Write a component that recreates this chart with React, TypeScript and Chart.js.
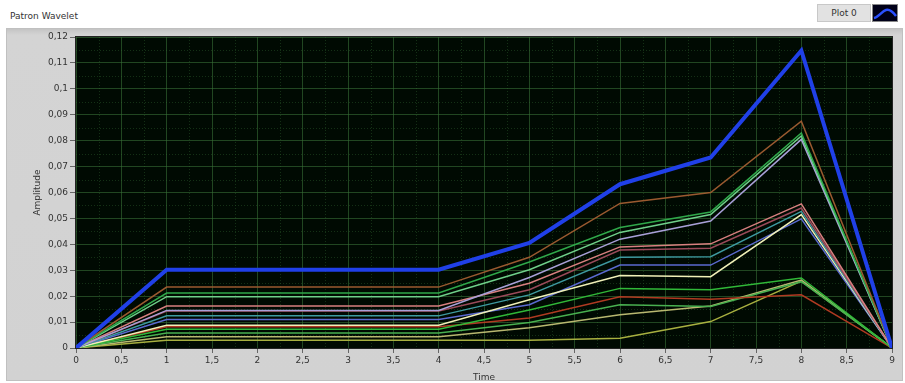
import React, { useEffect, useRef } from "react";
import { Chart, registerables } from "chart.js";

Chart.register(...registerables);

// Sample instants (s)
const timeValues = [0, 1, 2, 3, 4, 5, 6, 7, 8, 9];

// Wavelet pattern (thick trace) and the family of scaled traces
const patronValues = [0, 0.0302, 0.0302, 0.0302, 0.0302, 0.0405, 0.0632, 0.0735, 0.1148, 0];
const traceA = [0, 0.0235, 0.0235, 0.0235, 0.0235, 0.035, 0.0558, 0.06, 0.0875, 0];
const traceB = [0, 0.0212, 0.0212, 0.0212, 0.0212, 0.0332, 0.0465, 0.0525, 0.083, 0];
const traceC = [0, 0.0198, 0.0198, 0.0198, 0.0198, 0.0302, 0.0446, 0.0515, 0.0818, 0];
const traceD = [0, 0.0145, 0.0145, 0.0145, 0.0145, 0.0272, 0.042, 0.049, 0.0805, 0];
const traceE = [0, 0.0162, 0.0162, 0.0162, 0.0162, 0.025, 0.039, 0.0402, 0.0556, 0];
const traceF = [0, 0.0143, 0.0143, 0.0143, 0.0143, 0.0225, 0.0378, 0.0385, 0.054, 0];
const traceG = [0, 0.0124, 0.0124, 0.0124, 0.0124, 0.0205, 0.035, 0.0352, 0.0527, 0];
const traceH = [0, 0.0088, 0.0088, 0.0088, 0.0088, 0.0186, 0.028, 0.0275, 0.0515, 0];
const traceI = [0, 0.011, 0.011, 0.011, 0.011, 0.0167, 0.032, 0.032, 0.0498, 0];
const traceJ = [0, 0.0072, 0.0072, 0.0072, 0.0072, 0.0147, 0.023, 0.0225, 0.027, 0];
const traceK = [0, 0.0082, 0.0082, 0.0082, 0.0082, 0.0116, 0.0198, 0.0188, 0.0205, 0];
const traceL = [0, 0.0058, 0.0058, 0.0058, 0.0058, 0.0098, 0.0167, 0.016, 0.0256, 0];
const traceM = [0, 0.0043, 0.0043, 0.0043, 0.0043, 0.0078, 0.0128, 0.0162, 0.0262, 0];
const traceN = [0, 0.003, 0.003, 0.003, 0.003, 0.003, 0.0038, 0.0102, 0.0258, 0];

// Axis ranges and tick steps
const yMin = 0;
const yMax = 0.12;
const yStep = 0.01;
const xMin = 0;
const xMax = 9;
const xStep = 0.5;

const traceStyles = [
  { label: "Plot 0", values: patronValues, color: "#2040e8", width: 4 },
  { label: "Plot 1", values: traceA, color: "#9a5a30", width: 1.5 },
  { label: "Plot 2", values: traceB, color: "#2fa84a", width: 1.5 },
  { label: "Plot 3", values: traceC, color: "#6fd08a", width: 1.5 },
  { label: "Plot 4", values: traceD, color: "#a8a0d8", width: 1.5 },
  { label: "Plot 5", values: traceE, color: "#d88080", width: 1.5 },
  { label: "Plot 6", values: traceF, color: "#9a4a5a", width: 1.5 },
  { label: "Plot 7", values: traceG, color: "#3e9aa0", width: 1.5 },
  { label: "Plot 8", values: traceH, color: "#f0f0b8", width: 1.5 },
  { label: "Plot 9", values: traceI, color: "#5a6ad0", width: 1.5 },
  { label: "Plot 10", values: traceJ, color: "#30b838", width: 1.5 },
  { label: "Plot 11", values: traceK, color: "#b03a22", width: 1.5 },
  { label: "Plot 12", values: traceL, color: "#48b050", width: 1.5 },
  { label: "Plot 13", values: traceM, color: "#b8b870", width: 1.5 },
  { label: "Plot 14", values: traceN, color: "#a8b040", width: 1.5 },
];

const fmt = (v: number) =>
  String(Math.round(v * 1000) / 1000).replace(".", ",");

// Plot background and dotted minor grid, drawn beneath the traces
const plotBackground = {
  id: "plotBackground",
  beforeDraw(chart: any) {
    const { ctx, chartArea, scales } = chart;
    const { left, right, top, bottom } = chartArea;
    ctx.save();
    ctx.fillStyle = "#000a02";
    ctx.fillRect(left, top, right - left, bottom - top);
    ctx.strokeStyle = "rgba(40,85,40,0.5)";
    ctx.lineWidth = 1;
    ctx.setLineDash([1, 2]);
    for (let v = xMin + xStep / 2; v < xMax; v += xStep) {
      const px = Math.round(scales.x.getPixelForValue(v)) + 0.5;
      ctx.beginPath();
      ctx.moveTo(px, top);
      ctx.lineTo(px, bottom);
      ctx.stroke();
    }
    for (let v = yMin + yStep / 2; v < yMax; v += yStep) {
      const py = Math.round(scales.y.getPixelForValue(v)) + 0.5;
      ctx.beginPath();
      ctx.moveTo(left, py);
      ctx.lineTo(right, py);
      ctx.stroke();
    }
    ctx.restore();
  },
  afterDraw(chart: any) {
    const { ctx, chartArea } = chart;
    ctx.save();
    ctx.strokeStyle = "#222";
    ctx.lineWidth = 1;
    ctx.strokeRect(
      chartArea.left - 0.5,
      chartArea.top - 0.5,
      chartArea.right - chartArea.left + 1,
      chartArea.bottom - chartArea.top + 1
    );
    ctx.restore();
  },
};

export default function App() {
  const canvasRef = useRef<HTMLCanvasElement | null>(null);

  useEffect(() => {
    document.body.style.margin = "0";
    const canvas = canvasRef.current;
    if (!canvas) return;
    const tickFont = { family: "DejaVu Sans", size: 9 };
    const gridColor = "rgba(55,110,55,0.6)";
    const chart = new Chart(canvas, {
      type: "line",
      data: {
        datasets: traceStyles.map((t) => ({
          label: t.label,
          data: timeValues.map((x, i) => ({ x, y: t.values[i] })),
          borderColor: t.color,
          backgroundColor: t.color,
          borderWidth: t.width,
          pointRadius: 0,
          tension: 0,
          fill: false,
        })),
      },
      options: {
        animation: false,
        responsive: false,
        maintainAspectRatio: false,
        layout: { padding: { left: 0, top: 37, right: 13, bottom: 0 } },
        plugins: {
          legend: { display: false },
          tooltip: { enabled: false },
          title: { display: false },
        },
        scales: {
          x: {
            type: "linear",
            min: xMin,
            max: xMax,
            ticks: {
              stepSize: xStep,
              callback: (v: any) => fmt(Number(v)),
              color: "#333",
              font: tickFont,
              padding: 2,
              maxRotation: 0,
              autoSkip: false,
            },
            grid: {
              color: gridColor,
              lineWidth: 1,
              tickColor: "#666",
              tickLength: 5,
              drawTicks: true,
            },
            border: { display: false },
            title: {
              display: true,
              text: "Time",
              color: "#333",
              font: tickFont,
              padding: { top: 0, bottom: 0 },
            },
            afterFit: (scale: any) => {
              scale.height = 35;
            },
          },
          y: {
            type: "linear",
            min: yMin,
            max: yMax,
            ticks: {
              stepSize: yStep,
              callback: (v: any) => fmt(Number(v)),
              color: "#333",
              font: tickFont,
              padding: 2,
              autoSkip: false,
            },
            grid: {
              color: gridColor,
              lineWidth: 1,
              tickColor: "#666",
              tickLength: 6,
              drawTicks: true,
            },
            border: { display: false },
            title: {
              display: true,
              text: "Amplitude",
              color: "#333",
              font: tickFont,
              padding: { top: 32, bottom: 0 },
            },
            afterFit: (scale: any) => {
              scale.width = 76;
            },
          },
        },
      },
      plugins: [plotBackground],
    } as any);
    return () => chart.destroy();
  }, []);

  return (
    <div
      style={{
        position: "relative",
        width: 905,
        height: 383,
        background: "#ffffff",
        fontFamily: "DejaVu Sans, sans-serif",
        overflow: "hidden",
      }}
    >
      <div
        style={{
          position: "absolute",
          left: 10,
          top: 11,
          fontSize: 9,
          color: "#333",
        }}
      >
        Patron Wavelet
      </div>
      <div
        style={{
          position: "absolute",
          left: 817,
          top: 4,
          width: 54,
          height: 18,
          background: "#e2e2e2",
          border: "1px solid #c8c8c8",
          boxSizing: "border-box",
          fontSize: 9,
          color: "#333",
          lineHeight: "16px",
          textAlign: "center",
        }}
      >
        Plot 0
      </div>
      <div
        style={{
          position: "absolute",
          left: 872,
          top: 4,
          width: 26,
          height: 18,
          background: "#000018",
          border: "1px solid #888",
          boxSizing: "border-box",
        }}
      >
        <svg width="24" height="16" style={{ display: "block" }}>
          <path
            d="M1 13 C 6 12, 9 6, 13 5 S 20 7, 23 11"
            stroke="#2a50ff"
            strokeWidth="2.5"
            fill="none"
          />
        </svg>
      </div>
      <div
        style={{
          position: "absolute",
          left: 6,
          top: 28,
          width: 897,
          height: 353,
          background: "linear-gradient(#c4c4c4 0px, #d4d4d4 6px, #d2d2d2 100%)",
          border: "1px solid #c0c0c0",
          boxSizing: "border-box",
        }}
      />
      <canvas
        ref={canvasRef}
        width={905}
        height={383}
        style={{ position: "absolute", left: 0, top: 0, width: 905, height: 383 }}
      />
    </div>
  );
}
